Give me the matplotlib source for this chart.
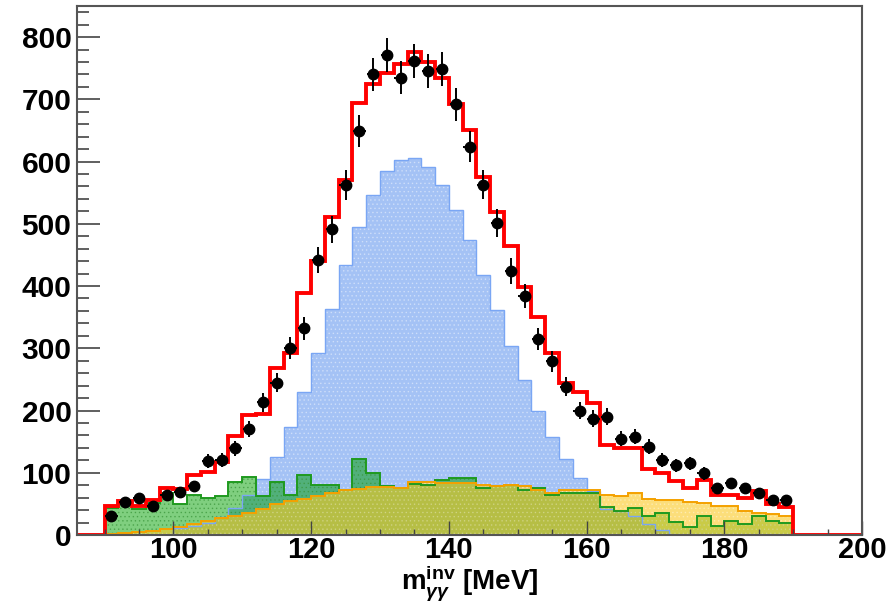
import numpy as np
import matplotlib
matplotlib.use("Agg")
import matplotlib.pyplot as plt

# font setup (ROOT-like bold helvetica)
plt.rcParams["font.family"] = ["Liberation Sans", "DejaVu Sans"]
plt.rcParams["font.weight"] = "bold"
plt.rcParams["mathtext.fontset"] = "custom"
plt.rcParams["mathtext.rm"] = "Liberation Sans:bold"
plt.rcParams["mathtext.bf"] = "Liberation Sans:bold"
plt.rcParams["mathtext.it"] = "Liberation Sans:italic:bold"
plt.rcParams["hatch.linewidth"] = 0.6

# binning: 2 MeV bins from 90 to 190
bin_lo, bin_hi, bin_w = 90, 190, 2
x_range = (86, 200)

# measured counts per bin
data_counts = [30, 53, 59, 46, 65, 69, 78, 119, 121, 139,
               170, 213, 245, 300, 332, 442, 491, 562, 649, 740,
               771, 735, 762, 746, 748, 692, 624, 563, 501, 424,
               384, 315, 279, 238, 200, 187, 190, 155, 158, 142,
               121, 112, 115, 99, 75, 83, 75, 67, 56, 56]

# total (red)
total = [46, 54, 47, 56, 75, 74, 96, 101, 118, 159,
         192, 195, 268, 293, 389, 440, 511, 570, 694, 724,
         742, 756, 776, 760, 734, 692, 650, 576, 519, 464,
         398, 350, 292, 244, 230, 212, 145, 139, 139, 106,
         99, 86, 75, 89, 65, 65, 60, 70, 49, 45]

# signal (blue)
signal = [0, 0, 0, 0, 0, 12, 14, 19, 29, 43,
          64, 90, 126, 174, 230, 292, 363, 434, 495, 547,
          585, 603, 605, 592, 563, 523, 474, 418, 361, 304,
          249, 200, 158, 122, 92, 70, 42, 38, 30, 18,
          8, 0, 0, 0, 0, 0, 0, 0, 0, 0]

# background 1 (green)
bkg_green = [44, 52, 41, 52, 67, 49, 65, 60, 62, 85,
             93, 62, 85, 65, 97, 81, 81, 73, 122, 100,
             79, 75, 82, 81, 88, 91, 91, 75, 79, 81,
             73, 75, 65, 67, 68, 68, 45, 39, 44, 30,
             35, 21, 13, 30, 15, 22, 17, 30, 22, 20]

# background 2 (yellow)
bkg_yellow = [2, 3, 4, 6, 9, 13, 17, 22, 27, 31,
              35, 42, 50, 55, 58, 63, 67, 72, 74, 77,
              77, 75, 85, 85, 84, 83, 84, 81, 79, 81,
              78, 73, 67, 73, 73, 72, 65, 62, 67, 58,
              56, 57, 53, 51, 47, 46, 38, 35, 33, 30]

edges = np.arange(bin_lo, bin_hi + bin_w, bin_w)
centers = 0.5 * (edges[:-1] + edges[1:])
data_counts = np.array(data_counts, dtype=float)

fig = plt.figure(figsize=(8.91, 6.06), dpi=100)
ax = fig.add_axes([0.0864, 0.1172, 0.8811, 0.8729])

# filled histograms (overlaid, not stacked)
ax.stairs(signal, edges, fill=True, facecolor="#7ea8f2", alpha=0.7, lw=0)
ax.stairs(signal, edges, fill=True, facecolor="none", edgecolor="white",
          hatch="....", lw=0, alpha=0.35)
ax.stairs(bkg_green, edges, fill=True, facecolor="#00a000", alpha=0.5, lw=0)
ax.stairs(bkg_green, edges, fill=True, facecolor="none", edgecolor="#006600",
          hatch="....", lw=0, alpha=0.3)
ax.stairs(bkg_yellow, edges, fill=True, facecolor="#fbc922", alpha=0.6, lw=0)
ax.stairs(bkg_yellow, edges, fill=True, facecolor="none", edgecolor="white",
          hatch="....", lw=0, alpha=0.3)

# outlines
ax.stairs(signal, edges, color="#7aa6f4", lw=1.0)
ax.stairs(bkg_green, edges, color="#1f9a1f", lw=1.4)
ax.stairs(bkg_yellow, edges, color="#f4a100", lw=1.4)

# total, with empty bins on either side
full_edges = np.concatenate([[x_range[0]], edges, [x_range[1]]])
ax.stairs(np.concatenate([[0], total, [0]]), full_edges, color="#ff0000",
          lw=2.8, baseline=None)

# data points
ax.errorbar(centers, data_counts, yerr=np.sqrt(data_counts), xerr=0.9,
            fmt="o", color="black", ms=7.5, elinewidth=1.4, capsize=0)

ax.set_xlim(*x_range)
ax.set_ylim(0, 850)
ax.set_xticks(np.arange(100, 201, 20))
ax.set_xticks(np.arange(90, 201, 5), minor=True)
ax.set_yticks(np.arange(0, 801, 100))
ax.set_yticks(np.arange(0, 850, 20), minor=True)
ax.tick_params(axis="x", which="both", direction="in", top=False,
               labelsize=21, pad=0.5, color="#444444")
ax.tick_params(axis="x", which="major", length=10, width=1.0)
ax.tick_params(axis="x", which="minor", length=4.5, width=1.0)
ax.tick_params(axis="y", which="both", direction="in", right=False,
               labelsize=21.5, pad=4, color="#444444")
ax.tick_params(axis="y", which="major", length=16.5, width=1.2)
ax.tick_params(axis="y", which="minor", length=8.5, width=1.2)
for lab in ax.get_xticklabels() + ax.get_yticklabels():
    lab.set_fontweight("bold")
for sp in ax.spines.values():
    sp.set_color("#555555")
    sp.set_linewidth(1.5)

ax.set_xlabel(r"m$_{\gamma\gamma}^{\rm inv}$ [MeV]", fontsize=20,
              fontweight="bold", labelpad=-0.5)

fig.savefig("out.png", dpi=100)
